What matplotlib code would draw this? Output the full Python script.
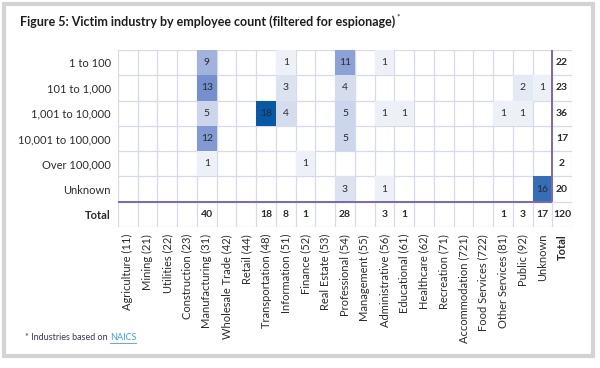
import matplotlib
matplotlib.use('Agg')
import matplotlib.pyplot as plt
import numpy as np
from matplotlib.colors import LinearSegmentedColormap
from matplotlib.patches import Rectangle
from matplotlib.lines import Line2D

plt.rcParams['font.family'] = ['Lato', 'DejaVu Sans']

# DATA
sizes = ['1 to 100', '101 to 1,000', '1,001 to 10,000', '10,001 to 100,000',
         'Over 100,000', 'Unknown']
industries = ['Agriculture (11)', 'Mining (21)', 'Utilities (22)', 'Construction (23)',
              'Manufacturing (31)', 'Wholesale Trade (42)', 'Retail (44)',
              'Transportation (48)', 'Information (51)', 'Finance (52)',
              'Real Estate (53)', 'Professional (54)', 'Management (55)',
              'Administrative (56)', 'Educational (61)', 'Healthcare (62)',
              'Recreation (71)', 'Accommodation (721)', 'Food Services (722)',
              'Other Services (81)', 'Public (92)', 'Unknown']

#             Ag Mi Ut Co Ma Wh Re Tr In Fi RE Pr Mg Ad Ed He Rc Ac Fo Ot Pu Un
row_1_100   = [0, 0, 0, 0, 9, 0, 0, 0, 1, 0, 0, 11, 0, 1, 0, 0, 0, 0, 0, 0, 0, 0]
row_101_1k  = [0, 0, 0, 0, 13, 0, 0, 0, 3, 0, 0, 4, 0, 0, 0, 0, 0, 0, 0, 0, 2, 1]
row_1k_10k  = [0, 0, 0, 0, 5, 0, 0, 18, 4, 0, 0, 5, 0, 1, 1, 0, 0, 0, 0, 1, 1, 0]
row_10k_100k = [0, 0, 0, 0, 12, 0, 0, 0, 0, 0, 0, 5, 0, 0, 0, 0, 0, 0, 0, 0, 0, 0]
row_over_100k = [0, 0, 0, 0, 1, 0, 0, 0, 0, 1, 0, 0, 0, 0, 0, 0, 0, 0, 0, 0, 0, 0]
row_unknown = [0, 0, 0, 0, 0, 0, 0, 0, 0, 0, 0, 3, 0, 1, 0, 0, 0, 0, 0, 0, 0, 16]

counts = np.array([row_1_100, row_101_1k, row_1k_10k, row_10k_100k,
                   row_over_100k, row_unknown])
row_totals = counts.sum(axis=1)
col_totals = counts.sum(axis=0)
grand_total = counts.sum()

# STYLE
cmap = LinearSegmentedColormap.from_list(
    'vz', [(0.0, '#eef0f8'), (0.25, '#c9d3ea'), (0.7, '#7891ce'), (1.0, '#0858a8')])
grid_color = '#d6daec'
line_purple = '#7b68b6'
text_color = '#2b2b2b'

fig = plt.figure(figsize=(6, 3.68), dpi=100)
ax = fig.add_axes([118 / 600, 1 - 227 / 368, 454 / 600, 177 / 368])

n_rows, n_cols = counts.shape
masked = np.ma.masked_equal(counts, 0)
ax.pcolormesh(np.arange(n_cols + 1), np.arange(n_rows + 1), masked,
              cmap=cmap, vmin=1, vmax=18)

# cell values
for i in range(n_rows):
    for j in range(n_cols):
        if counts[i, j]:
            ax.text(j + 0.5, i + 0.5, str(counts[i, j]), ha='center', va='center',
                    fontsize=7.5, color=text_color)
    ax.text(n_cols + 0.5, i + 0.5, str(row_totals[i]), ha='center', va='center',
            fontsize=7.5, color=text_color, fontweight='bold')
for j in range(n_cols):
    if col_totals[j]:
        ax.text(j + 0.5, n_rows + 0.5, str(col_totals[j]), ha='center', va='center',
                fontsize=7.5, color=text_color, fontweight='bold')
ax.text(n_cols + 0.5, n_rows + 0.5, str(grand_total), ha='center', va='center',
        fontsize=7.5, color=text_color, fontweight='bold')

# grid
for x in range(n_cols + 2):
    ax.axvline(x, color=grid_color, lw=0.9, zorder=0.5)
for y in range(n_rows + 2):
    ax.axhline(y, color=grid_color, lw=0.9, zorder=0.5)
ax.plot([0, n_cols], [n_rows, n_rows], color=line_purple, lw=1.4, zorder=3,
        solid_capstyle='butt')
ax.plot([n_cols, n_cols], [0, n_rows], color=line_purple, lw=1.4, zorder=3,
        solid_capstyle='butt')

ax.set_xlim(0, n_cols + 1)
ax.set_ylim(n_rows + 1, 0)
for s in ax.spines.values():
    s.set_visible(False)

ax.set_xticks(np.arange(n_cols + 1) + 0.5)
ax.set_xticklabels(industries + ['Total'], rotation=90, fontsize=8, color=text_color)
ax.set_yticks(np.arange(n_rows + 1) + 0.5)
ax.set_yticklabels(sizes + ['Total'], fontsize=8, color=text_color)
ax.get_xticklabels()[-1].set_fontweight('bold')
ax.get_yticklabels()[-1].set_fontweight('bold')
ax.tick_params(length=0, pad=5)

# title
title = fig.text(20 / 600, 1 - 22 / 368, 'Figure 5: Victim industry by employee count (filtered for espionage)',
                 fontsize=9, fontweight='bold', color='#1e1e1e', va='center')
fig.canvas.draw()
bb = title.get_window_extent()
fig.text(bb.x1 / 600 + 0.002, 1 - 17 / 368, '*', fontsize=6, color='#1e1e1e', va='center')

# footnote
note = fig.text(25 / 600, 1 - 338 / 368, '* Industries based on ', fontsize=6.5,
                color='#3d3552', va='center')
fig.canvas.draw()
nb = note.get_window_extent()
link = fig.text(nb.x1 / 600, 1 - 338 / 368, 'NAICS', fontsize=6.5, color='#3ea0dc', va='center')
fig.canvas.draw()
lb = link.get_window_extent()
fig.add_artist(Line2D([lb.x0 / 600, lb.x1 / 600], [(lb.y0 - 0.5) / 368] * 2,
                      color='#3ea0dc', lw=0.6))

# outer frame
fig.add_artist(Rectangle((4 / 600, 1 - 356 / 368), 589 / 600, 352 / 368,
                         fill=False, edgecolor='#d3d3d3', lw=3, transform=fig.transFigure))

fig.savefig('out.png', dpi=100)
